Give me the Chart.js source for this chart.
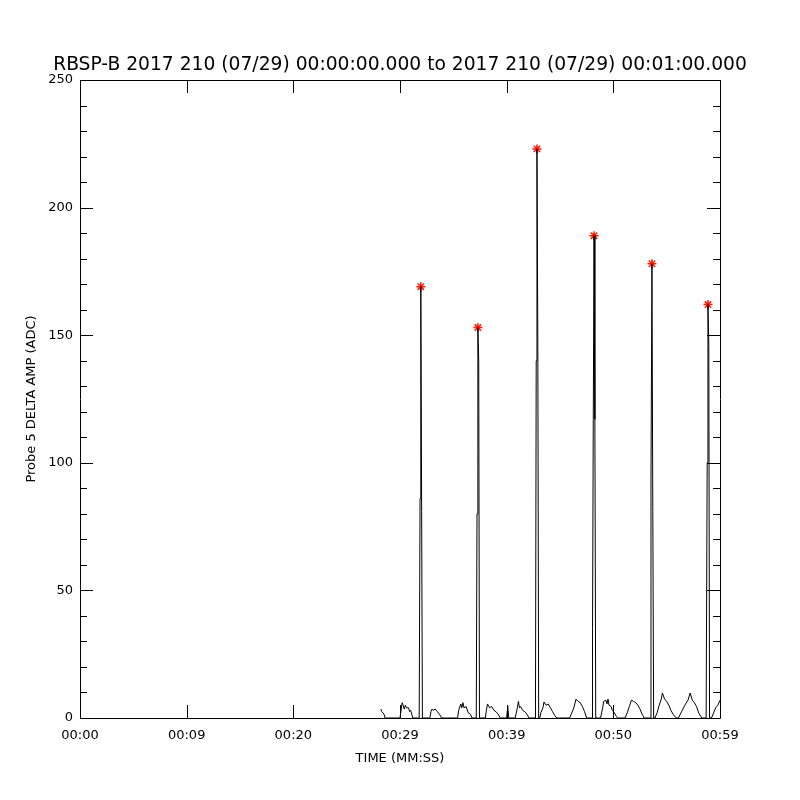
<!DOCTYPE html>
<html>
<head>
<meta charset="utf-8">
<script src="https://cdn.jsdelivr.net/npm/chart.js@4"></script>
<style>
  html, body { margin: 0; padding: 0; background: #fff; }
  #wrap { width: 800px; height: 800px; }
</style>
</head>
<body>
<div id="wrap"><canvas id="chart" width="800" height="800"></canvas></div>
<script>
// Time axis, seconds from 00:00:00
const xTickValues = [0, 10, 20, 30, 40, 50, 60];
const xTickLabels = ['00:00', '00:09', '00:20', '00:29', '00:39', '00:50', '00:59'];
const yTickValues = [0, 50, 100, 150, 200, 250];
const titleText = 'RBSP-B 2017 210 (07/29) 00:00:00.000 to 2017 210 (07/29) 00:01:00.000';

// Probe 5 delta amplitude trace (seconds, ADC)
const ampTimes = [
  28.2, 28.3, 28.5, 28.6, 29.9,
  30.0, 30.1, 30.2, 30.3, 30.4, 30.5, 30.6, 30.8, 30.9, 31.0, 31.1, 31.2,
  31.8, 31.88, 31.95, 32.03, 32.1,
  32.8, 32.9, 33.0, 33.1, 33.3, 33.5, 33.7, 33.9,
  35.4, 35.5, 35.7, 35.8, 35.9, 36.0, 36.2, 36.4, 36.6, 36.75,
  37.15, 37.22, 37.3, 37.38, 37.45,
  38.0, 38.1, 38.2, 38.4, 38.6, 38.8, 39.0, 39.2, 39.4,
  40.0, 40.1, 40.2,
  40.8, 40.9, 41.0, 41.1, 41.2, 41.3, 41.5, 41.7, 41.9, 42.1,
  42.7, 42.77, 42.84, 42.92, 43.0,
  43.1, 43.2, 43.4, 43.5, 43.7, 43.9, 44.1, 44.3, 44.5, 44.7,
  45.9, 46.1, 46.3, 46.5, 46.7, 46.9, 47.1, 47.3, 47.5,
  48.0, 48.05, 48.12, 48.19, 48.27, 48.35,
  48.8, 48.9, 49.0, 49.1, 49.3, 49.4, 49.5, 49.6, 49.8, 49.9, 50.1, 50.3, 50.4,
  51.1, 51.3, 51.5, 51.7, 51.9, 52.1, 52.3, 52.5, 52.7, 52.9,
  53.45, 53.53, 53.62, 53.7, 53.78,
  53.9, 54.1, 54.3, 54.5, 54.6, 54.8, 55.0, 55.2, 55.4, 55.6, 55.9,
  56.1, 56.4, 56.7, 57.0, 57.2, 57.4, 57.6, 57.8, 58.0, 58.3,
  58.7, 58.8, 58.87, 58.95, 59.02,
  59.2, 59.4, 59.6, 59.8, 60.0
];
const ampValues = [
  3.5, 2.5, 1.5, 0, 0,
  0, 3, 6, 5, 3.5, 5, 4, 4, 2.5, 3, 1.5, 0,
  0, 86, 169, 81, 0,
  0, 2.5, 3.5, 3, 3.5, 2.5, 1.5, 0,
  0, 3, 5.5, 4, 6, 4, 4.5, 2, 1.5, 0,
  0, 80, 153, 140, 0,
  0, 3, 5.5, 4, 4.5, 3, 2.5, 1.5, 0,
  0, 4.7, 0,
  0, 2, 4, 6.5, 4, 4.5, 3, 2.5, 1.5, 0,
  0, 140, 223, 147, 0,
  0, 2, 4, 6.3, 5, 5.5, 4, 2.5, 1, 0,
  0, 2, 4, 7.4, 6.5, 6, 4.5, 2.5, 0,
  0, 35, 117, 189, 117, 0,
  0, 2, 4, 6.5, 7, 5.5, 7.4, 5, 4.5, 3, 2, 0.5, 0,
  0, 2, 4.5, 7, 6.5, 6, 5, 3.5, 1.5, 0,
  0, 94, 178, 81, 0,
  0, 2, 5, 7.5, 9.8, 7.5, 6.5, 5, 3, 1.5, 0,
  0, 2.5, 5, 7, 9.8, 7, 6, 4.5, 2, 0,
  0, 100, 162, 146, 0,
  0, 2, 4, 5, 7
];

// Peak markers (red asterisks)
const peakTimes = [31.95, 37.3, 42.84, 48.19, 53.62, 58.87];
const peakValues = [169, 153, 223, 189, 178, 162];

const tickFont = { family: 'DejaVu Sans', size: 13 };

// Draws the title, the closed frame and inward ticks on all four sides
const frameTicks = {
  id: 'frameTicks',
  afterDraw(chart) {
    const { ctx, chartArea: a, scales } = chart;
    const xs = scales.x, ys = scales.y;
    ctx.save();
    ctx.fillStyle = '#000';
    ctx.font = '18.7px "DejaVu Sans"';
    ctx.textAlign = 'center';
    ctx.textBaseline = 'middle';
    ctx.fillText(titleText, chart.width / 2, 65);

    ctx.strokeStyle = '#000';
    ctx.lineWidth = 1;
    ctx.beginPath();
    ctx.rect(Math.round(a.left) + 0.5, Math.round(a.top) + 0.5,
             Math.round(a.right - a.left), Math.round(a.bottom - a.top));
    for (const v of xTickValues) {
      const px = Math.round(xs.getPixelForValue(v)) + 0.5;
      ctx.moveTo(px, a.bottom); ctx.lineTo(px, a.bottom - 13);
      ctx.moveTo(px, a.top); ctx.lineTo(px, a.top + 13);
    }
    for (let v = 0; v <= 250; v += 10) {
      const py = Math.round(ys.getPixelForValue(v)) + 0.5;
      const len = v % 50 === 0 ? 13 : 7;
      ctx.moveTo(a.left, py); ctx.lineTo(a.left + len, py);
      ctx.moveTo(a.right, py); ctx.lineTo(a.right - len, py);
    }
    ctx.stroke();
    ctx.restore();
  }
};

new Chart(document.getElementById('chart'), {
  type: 'line',
  data: {
    datasets: [
      {
        label: 'amp',
        data: ampTimes.map((t, i) => ({ x: t, y: ampValues[i] })),
        borderColor: '#000',
        borderWidth: 1,
        pointRadius: 0,
        tension: 0,
        fill: false
      },
      {
        label: 'peaks',
        type: 'scatter',
        data: peakTimes.map((t, i) => ({ x: t, y: peakValues[i] })),
        pointStyle: 'star',
        pointRadius: 4.5,
        borderColor: '#ff1a00',
        backgroundColor: '#ff1a00',
        borderWidth: 1.5,
        showLine: false
      }
    ]
  },
  options: {
    responsive: false,
    animation: false,
    layout: { padding: { left: 0, right: 80, top: 80, bottom: 0 } },
    plugins: {
      legend: { display: false },
      tooltip: { enabled: false },
      title: { display: false }
    },
    scales: {
      x: {
        type: 'linear',
        min: 0,
        max: 60,
        afterFit: s => { s.height = 82; },
        afterBuildTicks: s => { s.ticks = xTickValues.map(v => ({ value: v })); },
        ticks: {
          color: '#000',
          font: tickFont,
          padding: 10,
          maxRotation: 0,
          callback: (v) => xTickLabels[xTickValues.indexOf(v)]
        },
        grid: { display: false, drawTicks: false },
        border: { display: false },
        title: {
          display: true,
          text: 'TIME (MM:SS)',
          color: '#000',
          font: tickFont,
          padding: { top: 0, bottom: 34 }
        }
      },
      y: {
        min: 0,
        max: 250,
        afterFit: s => { s.width = 80; },
        afterBuildTicks: s => { s.ticks = yTickValues.map(v => ({ value: v })); },
        ticks: {
          color: '#000',
          font: tickFont,
          padding: 7
        },
        grid: { display: false, drawTicks: false },
        border: { display: false },
        title: {
          display: true,
          text: 'Probe 5 DELTA AMP (ADC)',
          color: '#000',
          font: tickFont,
          padding: { top: 24, bottom: 0 }
        }
      }
    }
  },
  plugins: [frameTicks]
});
</script>
</body>
</html>
